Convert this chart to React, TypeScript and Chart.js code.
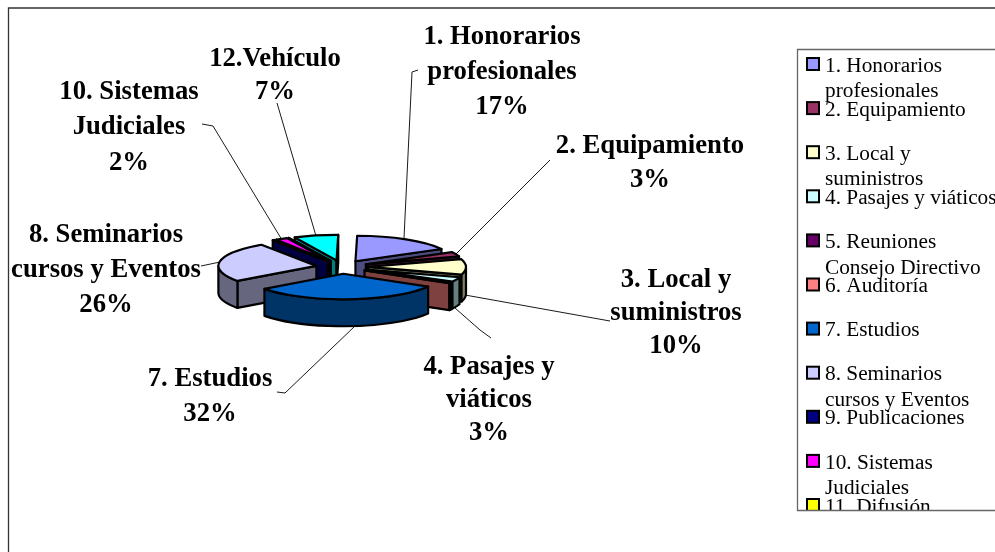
import React, { useEffect, useRef } from "react";
import { Chart, registerables } from "chart.js";

Chart.register(...registerables);

const categories = ["1. Honorarios profesionales","2. Equipamiento","3. Local y suministros","4. Pasajes y viáticos","5. Reuniones Consejo Directivo","6. Auditoría","7. Estudios","8. Seminarios cursos y Eventos","9. Publicaciones","10. Sistemas Judiciales","11. Difusión","12.Vehículo"];
const shares = [17, 3, 10, 3, 0.3, 0.3, 32, 26, 0.4, 2, 0.1, 7.4];
const colors = ["#9999FF","#993366","#FFFFCC","#CCFFFF","#660066","#FF8080","#0066CC","#CCCCFF","#000080","#FF00FF","#FFFF00","#00FFFF"];
const legendLines = [["1. Honorarios","profesionales"],["2. Equipamiento"],["3. Local y","suministros"],["4. Pasajes y viáticos"],["5. Reuniones","Consejo Directivo"],["6. Auditoría"],["7. Estudios"],["8. Seminarios","cursos y Eventos"],["9. Publicaciones"],["10. Sistemas","Judiciales"],["11. Difusión"]];

const callouts = [
  { lines: ["1. Honorarios","profesionales","17%"], x: 502, y: 36, dy: 35, path: [[418,70],[412,72],[404,238]] },
  { lines: ["2. Equipamiento","3%"], x: 650, y: 145, dy: 34, path: [[550,160],[455,255]] },
  { lines: ["3. Local y","suministros","10%"], x: 676, y: 279, dy: 33, path: [[610,321],[465,295]] },
  { lines: ["4. Pasajes y","viáticos","3%"], x: 489, y: 366, dy: 33, path: [[491,338],[480,330],[455,308]] },
  { lines: ["7. Estudios","32%"], x: 210, y: 378, dy: 35, path: [[277,392],[285,393],[355,326]] },
  { lines: ["8. Seminarios","cursos y Eventos","26%"], x: 106, y: 234, dy: 35, path: [[201,266],[220,262]] },
  { lines: ["10. Sistemas","Judiciales","2%"], x: 129, y: 91, dy: 35.5, path: [[202,124],[213,126],[282,240]] },
  { lines: ["12.Vehículo","7%"], x: 275, y: 58, dy: 33, path: [[277,103],[316,236]] },
];

const SQUASH = 0.26, DEPTH = 27, EXPLODE = 26;
const SERIF = '"Liberation Serif", serif';

function shade(hex: string) {
  const n = parseInt(hex.slice(1), 16);
  return `rgb(${(n >> 16) >> 1},${((n >> 8) & 255) >> 1},${(n & 255) >> 1})`;
}

const pie3d = {
  id: "pie3d",
  beforeDraw(chart: any) {
    const c = chart.ctx;
    c.save();
    c.fillStyle = "#fff";
    c.fillRect(0, 0, chart.width, chart.height);
    c.strokeStyle = "#333";
    c.lineWidth = 1.3;
    c.beginPath();
    c.moveTo(8.5, 552);
    c.lineTo(8.5, 8);
    c.lineTo(995, 8);
    c.stroke();
    c.restore();
  },
  beforeDatasetsDraw(chart: any) {
    const c = chart.ctx;
    const arcs = chart.getDatasetMeta(0).data.map((a: any, i: number) => {
      const p = a.getProps(["x","y","startAngle","endAngle","outerRadius"], true);
      const mid = (p.startAngle + p.endAngle) / 2;
      return { ...p, mid, i, cx: p.x + EXPLODE * Math.cos(mid), cy: p.y + SQUASH * EXPLODE * Math.sin(mid) };
    }).sort((a: any, b: any) => Math.sin(a.mid) - Math.sin(b.mid));

    c.save();
    c.lineWidth = 2.2;
    c.lineJoin = "round";
    c.strokeStyle = "#000";
    for (const s of arcs) {
      const R = s.outerRadius, Ry = R * SQUASH;
      const dark = shade(colors[s.i]);
      const pt = (a: number) => [s.cx + R * Math.cos(a), s.cy + Ry * Math.sin(a)];
      const face = (a: number) => {
        const [x, y] = pt(a);
        c.beginPath();
        c.moveTo(s.cx, s.cy);
        c.lineTo(x, y);
        c.lineTo(x, y + DEPTH);
        c.lineTo(s.cx, s.cy + DEPTH);
        c.closePath();
        c.fillStyle = dark;
        c.fill();
        c.stroke();
      };
      if (Math.cos(s.startAngle) < 0) face(s.startAngle);
      if (Math.cos(s.endAngle) > 0) face(s.endAngle);
      const a0 = Math.max(s.startAngle, 0), a1 = Math.min(s.endAngle, Math.PI);
      if (a1 > a0) {
        c.beginPath();
        c.ellipse(s.cx, s.cy, R, Ry, 0, a0, a1);
        c.ellipse(s.cx, s.cy + DEPTH, R, Ry, 0, a1, a0, true);
        c.closePath();
        c.fillStyle = dark;
        c.fill();
        c.stroke();
      }
      c.beginPath();
      c.moveTo(s.cx, s.cy);
      c.ellipse(s.cx, s.cy, R, Ry, 0, s.startAngle, s.endAngle);
      c.closePath();
      c.fillStyle = colors[s.i];
      c.fill();
      c.stroke();
    }
    c.restore();
    return false;
  },
  afterDraw(chart: any) {
    const c = chart.ctx;
    c.save();
    c.strokeStyle = "#000";
    c.lineWidth = 0.9;
    c.fillStyle = "#000";
    c.font = `bold 26.7px ${SERIF}`;
    c.textAlign = "center";
    c.textBaseline = "middle";
    for (const t of callouts) {
      c.beginPath();
      t.path.forEach(([x, y], i) => (i ? c.lineTo(x, y) : c.moveTo(x, y)));
      c.stroke();
      t.lines.forEach((l, i) => c.fillText(l, t.x, t.y + i * t.dy + 1));
    }
    const top = 49.5, left = 797.5, bottom = 510.5;
    c.save();
    c.beginPath();
    c.rect(left, top, 300, bottom - top);
    c.clip();
    c.font = `21.3px ${SERIF}`;
    c.textAlign = "left";
    legendLines.forEach((lines, i) => {
      const y = 64 + i * 44.1;
      c.fillStyle = colors[i];
      c.strokeStyle = "#000";
      c.lineWidth = 2;
      c.fillRect(807, y - 6, 12, 12);
      c.strokeRect(807, y - 6, 12, 12);
      c.fillStyle = "#000";
      lines.forEach((l, j) => c.fillText(l, 825, y + j * 25.5 + 2));
    });
    c.restore();
    c.strokeStyle = "#666";
    c.lineWidth = 1.3;
    c.beginPath();
    c.moveTo(995, top);
    c.lineTo(left, top);
    c.lineTo(left, bottom);
    c.lineTo(995, bottom);
    c.stroke();
    c.restore();
  },
};

export default function App() {
  const ref = useRef<HTMLCanvasElement>(null);
  useEffect(() => {
    const chart = new Chart(ref.current!, {
      type: "pie",
      data: { labels: categories, datasets: [{ data: shares, backgroundColor: colors }] },
      options: {
        animation: false,
        responsive: false,
        rotation: 1,
        layout: { padding: { left: 243, right: 554, top: 168, bottom: 186 } },
        plugins: { legend: { display: false }, tooltip: { enabled: false }, title: { display: false } },
      },
      plugins: [pie3d],
    } as any);
    return () => chart.destroy();
  }, []);
  return (
    <div style={{ position: "fixed", left: 0, top: 0, width: 995, height: 552 }}>
      <canvas ref={ref} width={995} height={552} style={{ display: "block" }} />
    </div>
  );
}
